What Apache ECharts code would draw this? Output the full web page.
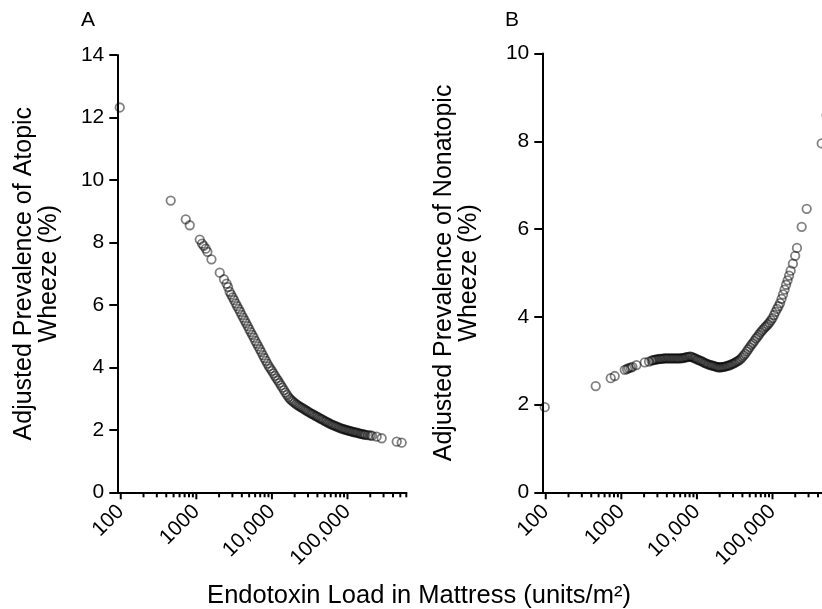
<!DOCTYPE html>
<html>
<head>
<meta charset="utf-8">
<script src="https://cdn.jsdelivr.net/npm/echarts@6/dist/echarts.min.js"></script>
<style>html,body{margin:0;padding:0;background:#fff}#c{width:822px;height:609px}</style>
</head>
<body>
<div id="c"></div>
<script>
// Endotoxin load in mattress (units/m2), shared by both panels
const endotoxin = [97, 458, 724, 818, 1110, 1189, 1253, 1332, 1402, 1585, 2041, 2323, 2512, 2630,
  2754, 2884, 3020, 3162, 3311, 3467, 3631, 3802, 3981, 4169, 4365, 4571, 4786, 5012, 5248, 5495,
  5754, 6026, 6310, 6607, 6918, 7244, 7586, 7943, 8318, 8710, 9120, 9550,
  10000, 10471, 10965, 11482, 12023, 12589, 13183, 13804, 14454, 15136, 15849, 16596, 17378, 18197, 19055,
  19953, 20893, 21878, 22909, 23988, 25119, 26303, 27542, 28840, 30200, 31623, 33113, 34674, 36308, 38019,
  39811, 41687, 43652, 45709, 47863, 50119, 52481, 54954, 57544, 60256, 63096, 66069, 69183, 72444, 75858,
  79433, 83176, 87096, 91201, 95499, 100000, 104713, 109648, 114815, 120226, 125893, 131826, 138038, 144544,
  151356, 158489, 165959, 173780, 186209, 199526, 210900, 243200, 283300, 448000, 521000];

// Panel A: adjusted prevalence of atopic wheeze (%)
const atopic = [12.32, 9.34, 8.74, 8.55, 8.09, 7.96, 7.89, 7.80, 7.70, 7.46, 7.03, 6.82, 6.68, 6.57,
  6.42, 6.33, 6.24, 6.15, 6.05, 5.96, 5.87, 5.78, 5.68, 5.59, 5.50, 5.41, 5.32, 5.22, 5.13, 5.04,
  4.95, 4.85, 4.76, 4.67, 4.58, 4.49, 4.39, 4.30, 4.21, 4.12, 4.03, 3.96,
  3.89, 3.81, 3.73, 3.65, 3.58, 3.50, 3.42, 3.35, 3.27, 3.19, 3.12, 3.05, 2.99, 2.94, 2.90,
  2.86, 2.82, 2.79, 2.76, 2.73, 2.70, 2.67, 2.64, 2.61, 2.58, 2.55, 2.52, 2.50, 2.47, 2.44,
  2.42, 2.39, 2.36, 2.34, 2.31, 2.28, 2.26, 2.23, 2.21, 2.18, 2.16, 2.14, 2.12, 2.10, 2.08,
  2.06, 2.04, 2.03, 2.01, 2.00, 1.98, 1.97, 1.96, 1.94, 1.93, 1.92, 1.91, 1.90, 1.88,
  1.87, 1.86, 1.85, 1.84, 1.83, 1.82, 1.81, 1.78, 1.73, 1.62, 1.59];

// Panel B: adjusted prevalence of nonatopic wheeze (%)
const nonatopic = [1.94, 2.42, 2.60, 2.65, 2.79, 2.81, 2.83, 2.84, 2.86, 2.90, 2.96, 2.98, 3.00, 3.01,
  3.02, 3.03, 3.03, 3.04, 3.04, 3.04, 3.05, 3.05, 3.05, 3.05, 3.05, 3.05, 3.05, 3.05, 3.05, 3.05,
  3.05, 3.05, 3.06, 3.06, 3.07, 3.08, 3.08, 3.09, 3.09, 3.08, 3.06, 3.05,
  3.03, 3.02, 3.00, 2.99, 2.97, 2.95, 2.94, 2.92, 2.91, 2.90, 2.89, 2.88, 2.87, 2.86, 2.85,
  2.85, 2.85, 2.86, 2.86, 2.87, 2.88, 2.89, 2.90, 2.92, 2.93, 2.95, 2.97, 2.99, 3.01, 3.04,
  3.08, 3.12, 3.16, 3.21, 3.26, 3.31, 3.36, 3.40, 3.45, 3.50, 3.54, 3.59, 3.64, 3.68, 3.72,
  3.76, 3.79, 3.83, 3.87, 3.92, 3.97, 4.04, 4.11, 4.18, 4.24, 4.31, 4.41, 4.51, 4.62,
  4.73, 4.83, 4.94, 5.05, 5.21, 5.39, 5.57, 6.05, 6.46, 7.95, 8.60];

const xMajorTicks = [100, 1000, 10000, 100000];
const xTickLabels = ['100', '1000', '10,000', '100,000'];
const xMinorTicks = [200, 300, 400, 500, 600, 700, 800, 900,
  2000, 3000, 4000, 5000, 6000, 7000, 8000, 9000,
  20000, 30000, 40000, 50000, 60000, 70000, 80000, 90000,
  200000, 300000, 400000, 500000, 600000];
const yMaxA = 14, yMaxB = 10, yStep = 2;
const panelLetters = ['A', 'B'];
const yTitles = ['Adjusted Prevalence of Atopic\nWheeze (%)', 'Adjusted Prevalence of Nonatopic\nWheeze (%)'];
const xTitle = 'Endotoxin Load in Mattress (units/m\u00B2)';

const FONT = '"Liberation Sans", Arial, Helvetica, sans-serif';
const chart = echarts.init(document.getElementById('c'), null, {renderer: 'canvas'});

function labelFmt(v) {
  const e = Math.log10(v);
  const r = Math.round(e);
  if (Math.abs(e - r) > 1e-6) return '';
  const idx = xMajorTicks.indexOf(Math.pow(10, r));
  return idx >= 0 ? xTickLabels[idx] : '';
}

function xAxisCfg(gi) {
  return {
    type: 'log', logBase: 10, gridIndex: gi, min: 90, max: 600000,
    axisLine: {show: true, lineStyle: {color: '#000', width: 2}},
    axisTick: {show: false}, minorTick: {show: false},
    splitLine: {show: false}, minorSplitLine: {show: false},
    axisLabel: {rotate: 45, formatter: labelFmt, fontSize: 21, color: '#000', fontFamily: FONT, margin: 16,
      showMinLabel: false, showMaxLabel: false, hideOverlap: false}
  };
}
function yAxisCfg(gi, max, name, gap) {
  return {
    type: 'value', gridIndex: gi, min: 0, max: max, interval: yStep,
    axisLine: {show: true, lineStyle: {color: '#000', width: 2}},
    axisTick: {show: true, length: 8, lineStyle: {color: '#000', width: 2}},
    splitLine: {show: false},
    axisLabel: {fontSize: 21, color: '#000', fontFamily: FONT, margin: 13},
    name: name, nameLocation: 'middle', nameGap: gap,
    nameTextStyle: {fontSize: 25, lineHeight: 25, color: '#000', fontFamily: FONT}
  };
}
function tickSeries(gi, ticks, len) {
  return {
    type: 'custom', xAxisIndex: gi, yAxisIndex: gi, silent: true, clip: false,
    data: ticks.map(v => [v, 0]),
    renderItem: function (params, api) {
      const p = api.coord([api.value(0), 0]);
      return {type: 'line', shape: {x1: p[0], y1: p[1], x2: p[0], y2: p[1] + len},
        style: {stroke: '#000', lineWidth: 2}};
    }
  };
}
function scatterSeries(gi, ys) {
  return {
    type: 'scatter', xAxisIndex: gi, yAxisIndex: gi, silent: true,
    symbol: 'circle', symbolSize: 8.5,
    itemStyle: {color: 'rgba(0,0,0,0)', borderColor: 'rgba(0,0,0,0.62)', borderWidth: 1.8},
    data: endotoxin.map((x, i) => [x, ys[i]])
  };
}

chart.setOption({
  animation: false,
  backgroundColor: '#fff',
  grid: [
    {left: 117.3, top: 55, width: 289, height: 437.3, containLabel: false, outerBoundsMode: 'none'},
    {left: 542.3, top: 53.5, width: 289, height: 438.8, containLabel: false, outerBoundsMode: 'none'}
  ],
  xAxis: [xAxisCfg(0), xAxisCfg(1)],
  yAxis: [yAxisCfg(0, yMaxA, yTitles[0], 55.5), yAxisCfg(1, yMaxB, yTitles[1], 60.5)],
  graphic: [
    {type: 'text', x: 81, y: 20, style: {text: panelLetters[0], font: '21px ' + FONT, fill: '#000', textVerticalAlign: 'middle'}},
    {type: 'text', x: 505, y: 20, style: {text: panelLetters[1], font: '21px ' + FONT, fill: '#000', textVerticalAlign: 'middle'}},
    {type: 'text', x: 419, y: 596, style: {text: xTitle, font: '25.5px ' + FONT, fill: '#000', textAlign: 'center', textVerticalAlign: 'middle'}}
  ],
  series: [
    tickSeries(0, xMajorTicks, 7), tickSeries(0, xMinorTicks, 5),
    tickSeries(1, xMajorTicks, 7), tickSeries(1, xMinorTicks, 5),
    scatterSeries(0, atopic), scatterSeries(1, nonatopic)
  ]
});
</script>
</body>
</html>
